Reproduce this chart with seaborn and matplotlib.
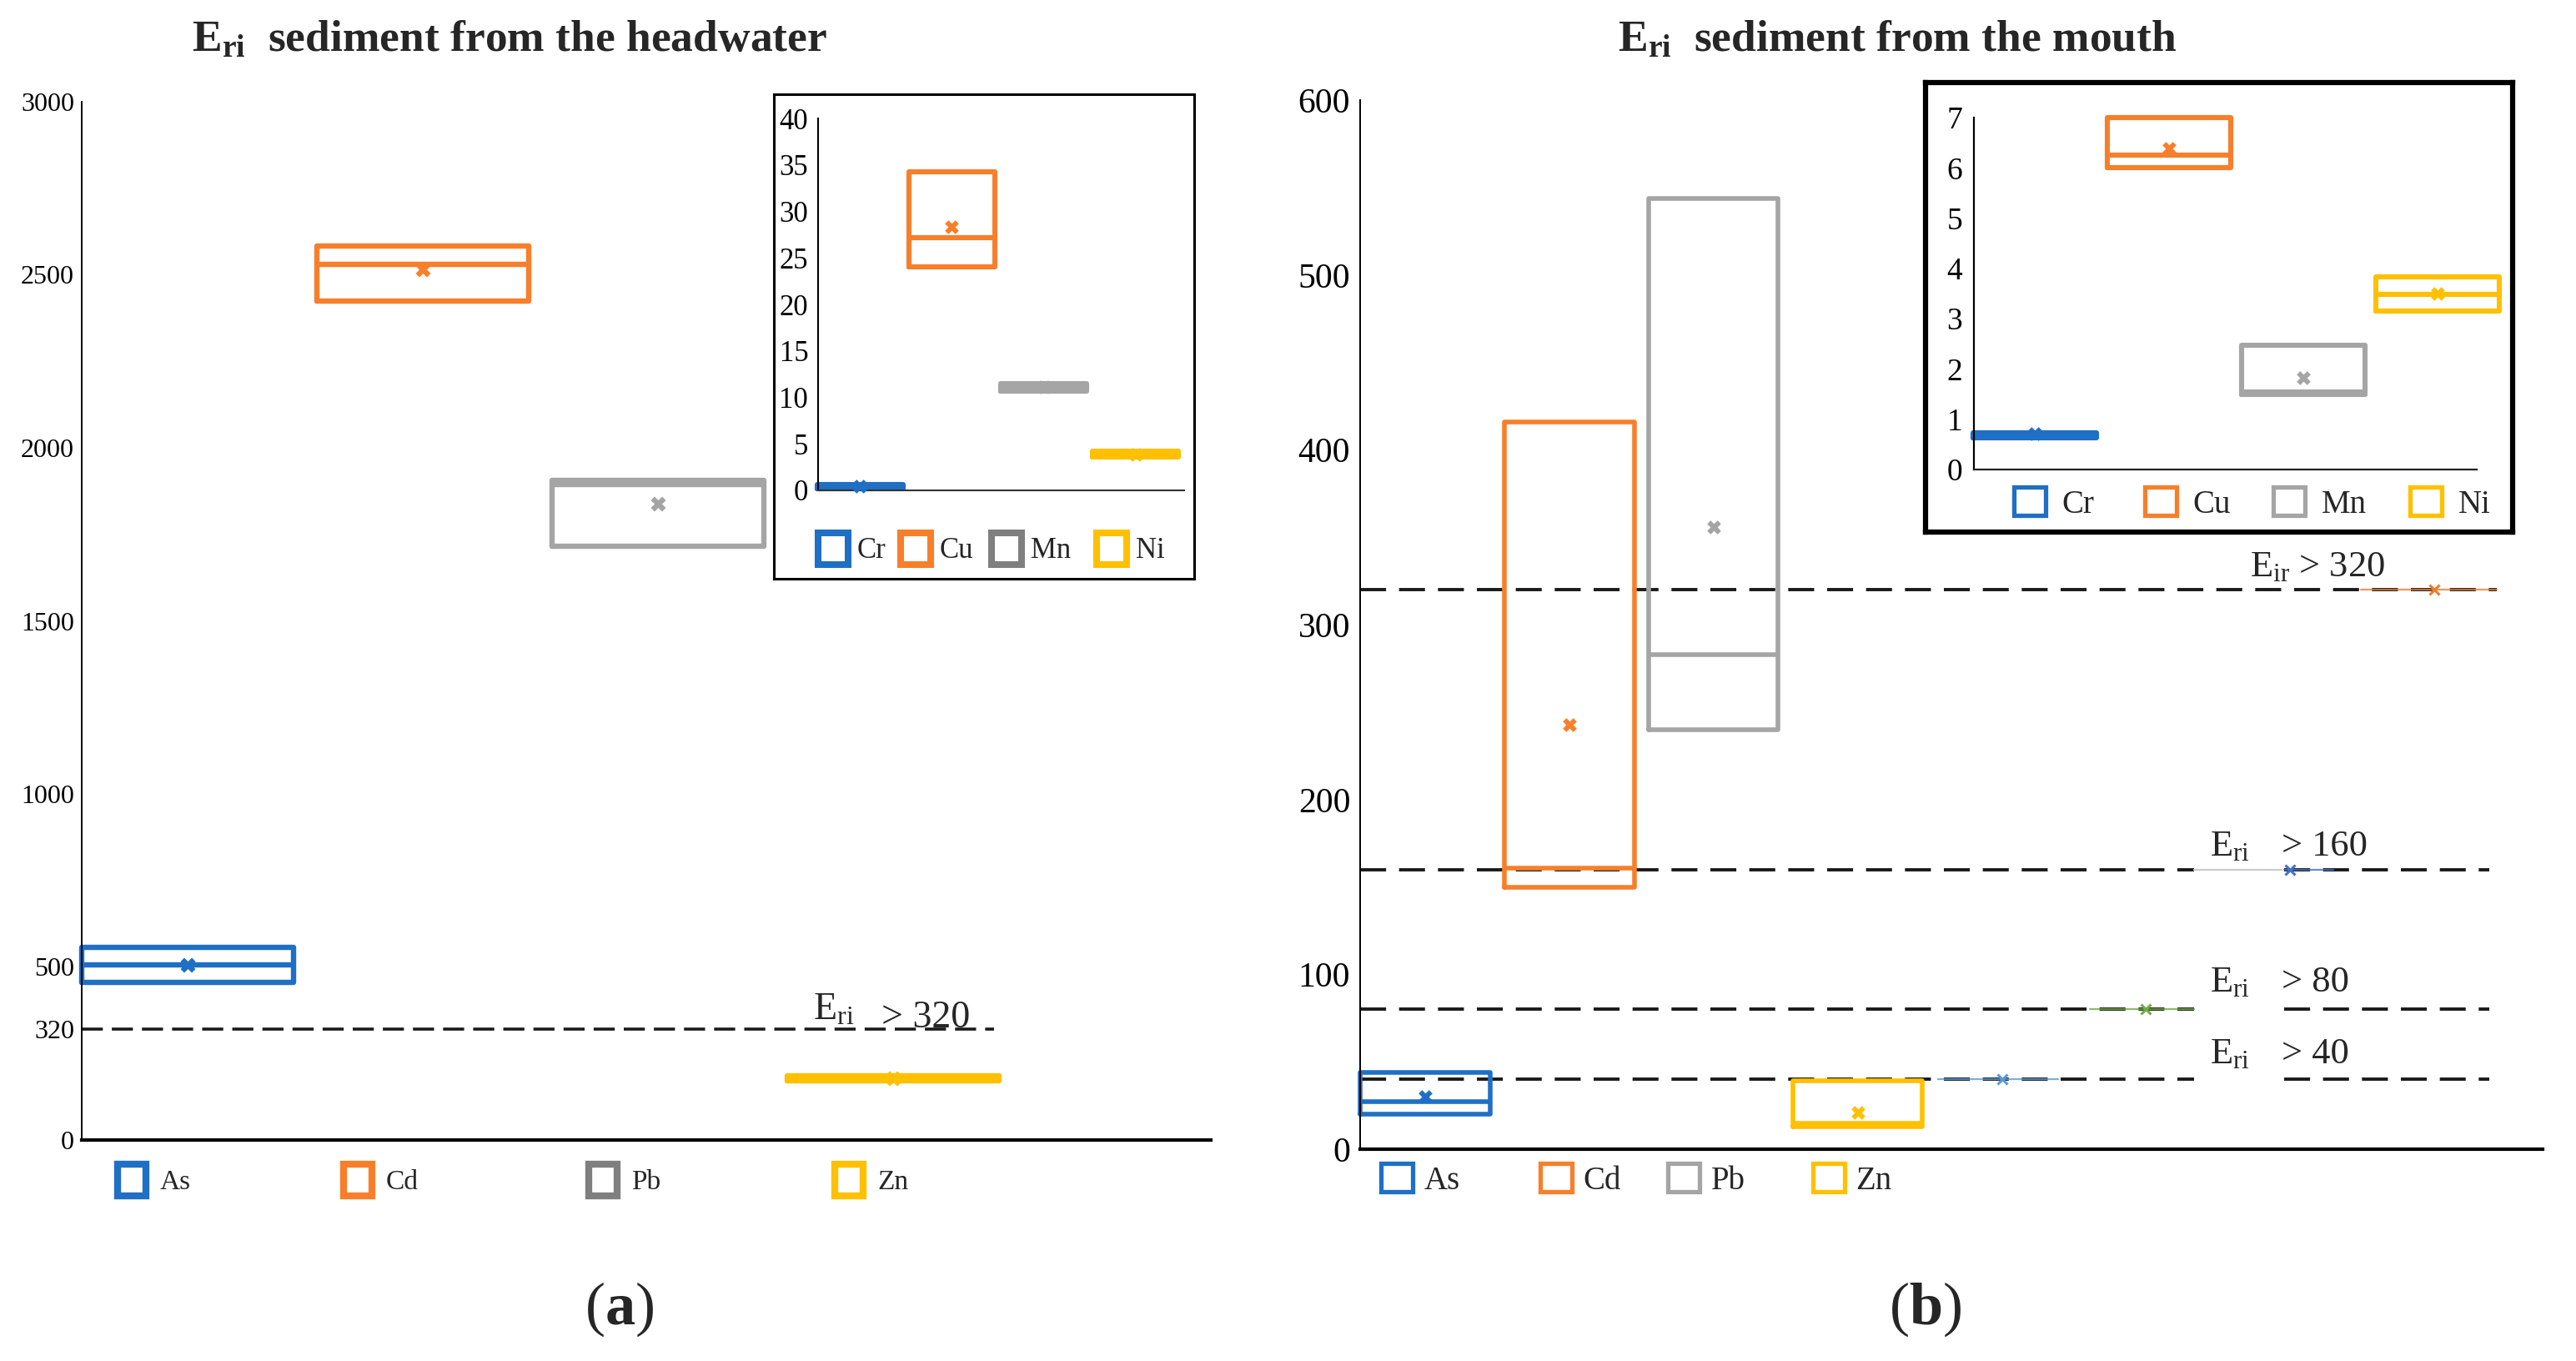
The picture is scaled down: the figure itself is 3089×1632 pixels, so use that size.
import numpy as np
import pandas as pd
import matplotlib
matplotlib.use("Agg")
import matplotlib.pyplot as plt
import matplotlib.patches as mpatches
import seaborn as sns

# ---------------- data ----------------
# Panel (a): sediment from the headwater (main elements)
a_elements = ["As", "Cd", "Pb", "Zn"]
a_q1 = [455, 2423, 1715, 170]
a_median = [505, 2530, 1895, 178]
a_q3 = [557, 2584, 1905, 185]
a_mean = [505, 2515, 1838, 178]
a_threshold = 320
a_yticks = [0, 320, 500, 1000, 1500, 2000, 2500, 3000]

# Panel (a) inset
ai_elements = ["Cr", "Cu", "Mn", "Ni"]
ai_q1 = [0.15, 24.0, 10.7, 3.55]
ai_median = [0.4, 27.2, 11.1, 3.9]
ai_q3 = [0.6, 34.3, 11.45, 4.2]
ai_mean = [0.45, 28.3, 11.1, 3.9]
ai_yticks = [0, 5, 10, 15, 20, 25, 30, 35, 40]

# Panel (b): sediment from the mouth (main elements)
b_elements = ["As", "Cd", "Pb", "Zn"]
b_q1 = [20, 150, 240, 13]
b_median = [27, 161, 283, 15]
b_q3 = [44, 416, 544, 39]
b_mean = [30, 243, 356, 21]
b_thresholds = [40, 80, 160, 320]
b_threshold_marker_x = [4, 5, 6, 7]
b_yticks = [0, 100, 200, 300, 400, 500, 600]

# Panel (b) inset
bi_elements = ["Cr", "Cu", "Mn", "Ni"]
bi_q1 = [0.63, 6.0, 1.5, 3.15]
bi_median = [0.68, 6.25, 1.55, 3.49]
bi_q3 = [0.73, 7.0, 2.47, 3.83]
bi_mean = [0.72, 6.38, 1.82, 3.5]
bi_yticks = [0, 1, 2, 3, 4, 5, 6, 7]

# ---------------- style ----------------
BLUE, ORANGE, GRAY, YELLOW = "#1F6FC5", "#F77F2B", "#A5A5A5", "#FFC000"
DGRAY = "#7F7F7F"
COLORS = [BLUE, ORANGE, GRAY, YELLOW]
MARK_COLORS = ["#5B9BD5", "#70AD47", "#4472C4", "#ED7D31"]

sns.set_theme(style="white")
plt.rcParams["font.family"] = ["Liberation Serif", "DejaVu Serif"]
plt.rcParams["mathtext.fontset"] = "custom"
plt.rcParams["mathtext.rm"] = "Liberation Serif"
plt.rcParams["mathtext.it"] = "Liberation Serif:italic"
plt.rcParams["mathtext.bf"] = "Liberation Serif:bold"

W, H = 3089, 1632
fig = plt.figure(figsize=(W / 100, H / 100), dpi=100)
fig.patch.set_facecolor("white")


def px_rect(x0, y0, x1, y1):
    return [x0 / W, 1 - y1 / H, (x1 - x0) / W, (y1 - y0) / H]


def box_df(elements, q1, med, q3):
    rows = []
    for e, a, m, b in zip(elements, q1, med, q3):
        for v in (a, a, m, b, b):
            rows.append((e, v))
    return pd.DataFrame(rows, columns=["element", "value"])


def draw_boxes(ax, elements, q1, med, q3, mean, lw, width, ms):
    pal = dict(zip(elements, COLORS))
    df = box_df(elements, q1, med, q3)
    sns.boxplot(data=df, x="element", y="value", hue="element", order=elements,
                hue_order=elements, palette=pal, fill=False, width=width, gap=0,
                linewidth=lw, showcaps=False, showfliers=False, legend=False, ax=ax)
    mdf = pd.DataFrame({"element": elements, "mean": mean})
    sns.stripplot(data=mdf, x="element", y="mean", hue="element", order=elements,
                  hue_order=elements, palette=pal, marker="X", size=ms, jitter=False,
                  linewidth=0, legend=False, ax=ax, zorder=5)
    for c in ax.collections:
        c.set_clip_on(False)
    for l in ax.lines:
        l.set_clip_on(False)
    for p in ax.patches:
        p.set_clip_on(False)


def style_axes(ax, yticks, ylim, xlim, fs, pad, lw_y, lw_x, xcol="black"):
    ax.set_ylim(*ylim)
    ax.set_xlim(*xlim)
    ax.set_yticks(yticks)
    ax.set_yticklabels([str(t) for t in yticks], fontsize=fs)
    ax.set_xticks([])
    ax.set_xlabel("")
    ax.set_ylabel("")
    ax.tick_params(axis="y", length=0, pad=pad, colors="black")
    for s in ("top", "right"):
        ax.spines[s].set_visible(False)
    ax.spines["left"].set_color("black")
    ax.spines["left"].set_linewidth(lw_y)
    ax.spines["bottom"].set_color(xcol)
    ax.spines["bottom"].set_linewidth(lw_x)
    ax.set_facecolor("none")
    ax.grid(False)


def entry_legend(label, color, xc, yc, fs, outer_w, outer_h, lw_pt, pad):
    fs_px = fs * 100 / 72
    lw_px = lw_pt * 100 / 72
    w = outer_w - lw_px
    h = outer_h - lw_px
    handle = mpatches.Patch(facecolor="white", edgecolor=color, linewidth=lw_pt)
    leg = fig.legend([handle], [label], loc="center left",
                     bbox_to_anchor=((xc - w / 2) / W, 1 - yc / H),
                     frameon=False, fontsize=fs, handlelength=w / fs_px,
                     handleheight=h / fs_px, handletextpad=pad, borderpad=0,
                     borderaxespad=0)
    return leg


# ---------------- panel (a) ----------------
axA = fig.add_axes(px_rect(98, 122, 1452, 1367))
draw_boxes(axA, a_elements, a_q1, a_median, a_q3, a_mean, lw=4.6, width=0.9, ms=13)
style_axes(axA, a_yticks, (0, 3000), (-0.45, 4.35), 23, 6.5, 1.4, 3.0)
axA.hlines(a_threshold, -0.45, 3.43, colors="#1a1a1a", linestyles=(0, (7, 3)), lw=2.6, zorder=1)
axA.text(2.66, a_threshold + 27, r"$\mathrm{E_{ri}}$", fontsize=33, va="baseline", ha="left")
axA.text(2.95, a_threshold + 5, "> 320", fontsize=33, va="baseline", ha="left")

fig.text(611 / W, 1 - 49 / H, r"$\mathbf{E_{ri}}$  sediment from the headwater",
         fontsize=38.5, fontweight="bold", ha="center", va="center")

# inset (a)
frameA = fig.add_axes(px_rect(928, 113, 1432, 694))
frameA.set_xticks([]); frameA.set_yticks([])
frameA.set_facecolor("white")
for s in frameA.spines.values():
    s.set_color("black"); s.set_linewidth(2.2); s.set_visible(True)

axAi = fig.add_axes(px_rect(981, 142, 1420, 588))
draw_boxes(axAi, ai_elements, ai_q1, ai_median, ai_q3, ai_mean, lw=4.4, width=0.93, ms=12)
style_axes(axAi, ai_yticks, (0, 40), (-0.458, 3.53), 25, 8.5, 1.5, 1.5, xcol="#333333")

# ---------------- panel (b) ----------------
axB = fig.add_axes(px_rect(1631, 120.5, 3049, 1378))
draw_boxes(axB, b_elements, b_q1, b_median, b_q3, b_mean, lw=4.0, width=0.9, ms=12)
style_axes(axB, b_yticks, (0, 600), (-0.45, 7.75), 30, 8.5, 1.4, 3.0)

dash = (0, (8, 4))
for thr in b_thresholds:
    if thr == 320:
        axB.hlines(thr, -0.45, 7.43, colors="#1a1a1a", linestyles=dash, lw=2.8, zorder=1)
    else:
        axB.hlines(thr, -0.45, 5.33, colors="#1a1a1a", linestyles=dash, lw=2.8, zorder=1)
        axB.hlines(thr, 5.96, 7.38, colors="#1a1a1a", linestyles=dash, lw=2.8, zorder=1)

# small coloured threshold series markers (Excel remnants)
seg = {40: (3.56, 4.39), 80: (4.61, 5.33), 160: (5.96, 6.3), 320: (6.49, 7.43)}
for xm, thr, col in zip(b_threshold_marker_x, b_thresholds, MARK_COLORS):
    x0, x1 = seg[thr]
    axB.plot([x0, x1], [thr, thr], color=col, lw=1.6, zorder=2, alpha=0.8)
    axB.plot([xm], [thr], marker="x", color=col, ms=9, mew=2.2, zorder=3)
axB.plot([5.33, 5.94], [160, 160], color="#cccccc", lw=1.6, zorder=2)

axB.text(5.72, 328, r"$\mathrm{E_{ir}}$ > 320", fontsize=32, va="baseline", ha="left")
for thr, yb in zip([160, 80, 40], [168, 90, 49]):
    axB.text(5.44, yb, r"$\mathrm{E_{ri}}$", fontsize=32, va="baseline", ha="left")
    axB.text(5.94, yb, "> %d" % thr, fontsize=32, va="baseline", ha="left")

fig.text(2275 / W, 1 - 49 / H, r"$\mathbf{E_{ri}}$  sediment from the mouth",
         fontsize=38.5, fontweight="bold", ha="center", va="center")

# inset (b)
frameB = fig.add_axes(px_rect(2309, 99, 3013, 638))
frameB.set_xticks([]); frameB.set_yticks([])
frameB.set_facecolor("white")
for s in frameB.spines.values():
    s.set_color("black"); s.set_linewidth(4.5); s.set_visible(True)

axBi = fig.add_axes(px_rect(2367, 141, 2367 + 644.6, 563))
draw_boxes(axBi, bi_elements, bi_q1, bi_median, bi_q3, bi_mean, lw=4.4, width=0.92, ms=12)
style_axes(axBi, bi_yticks, (0, 7), (-0.453, 3.55), 27, 10, 1.6, 1.6, xcol="#222222")
axBi.spines["bottom"].set_bounds(-0.453, 3.29)

# ---------------- legends ----------------
for lab, col, xc in zip(a_elements, [BLUE, ORANGE, DGRAY, YELLOW], [158, 429, 723, 1018]):
    entry_legend(lab, col, xc, 1415, 24, 43, 55, 6.0, 0.5)
for lab, col, xc in zip(ai_elements, [BLUE, ORANGE, DGRAY, YELLOW], [999, 1098, 1207, 1333]):
    entry_legend(lab, col, xc, 658, 25, 44, 54, 5.8, 0.32)
for lab, col, xc in zip(b_elements, COLORS, [1675, 1866, 2019, 2193]):
    entry_legend(lab, col, xc, 1415, 28, 43, 43, 3.8, 0.35)
for lab, col, xc in zip(bi_elements, COLORS, [2434, 2591, 2745, 2909]):
    entry_legend(lab, col, xc, 604, 28, 44, 42, 3.8, 0.5)

# panel letters
fig.text(743 / W, 1 - 1570 / H, r"($\mathbf{a}$)", fontsize=52, ha="center", va="center")
fig.text(2309 / W, 1 - 1570 / H, r"($\mathbf{b}$)", fontsize=52, ha="center", va="center")

fig.savefig("out.png", dpi=100, facecolor="white")
